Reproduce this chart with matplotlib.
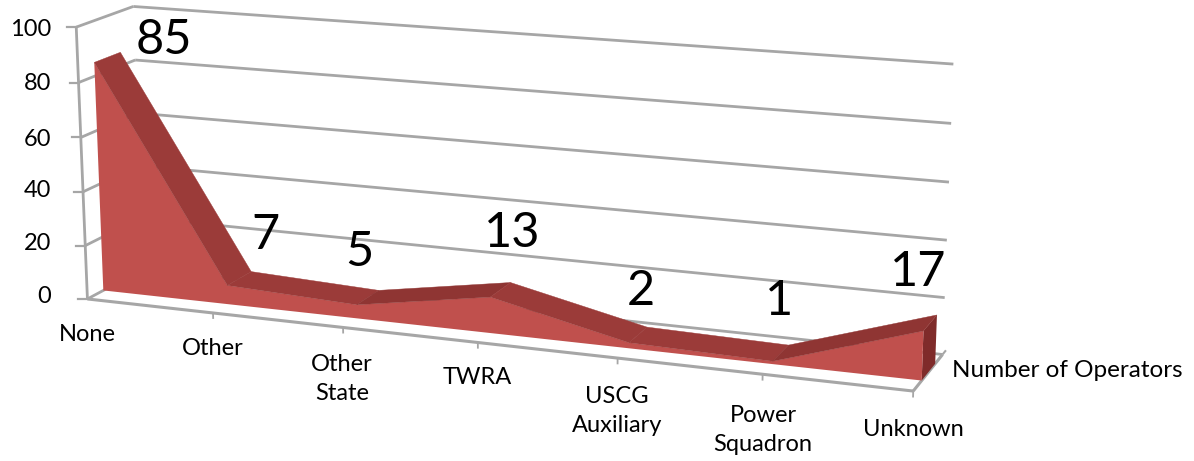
import numpy as np
import matplotlib
matplotlib.use("Agg")
import matplotlib.pyplot as plt

categories = ["None", "Other", "Other\nState", "TWRA", "USCG\nAuxiliary", "Power\nSquadron", "Unknown"]
values = [85, 7, 5, 13, 2, 1, 17]
y_ticks = [0, 20, 40, 60, 80, 100]
series_name = "Number of Operators"

W, H = 1194, 461
plt.rcParams["font.family"] = ["Lato", "DejaVu Sans"]

# camera calibration: (category pos, value, depth) -> pixel
calib = [
    ((0, 0, 0), (88, 297)), ((1, 0, 0), (213, 312)), ((2, 0, 0), (343, 328)),
    ((3, 0, 0), (477, 345)), ((5, 0, 0), (763, 375)), ((6, 0, 0), (913, 392)),
    ((0, 100, 0), (77, 28)), ((0, 80, 0), (78, 82)), ((0, 40, 0), (83, 190)),
    ((0, 100, 1), (133, 6)), ((0, 80, 1), (135, 60)), ((0, 60, 1), (137, 113)),
    ((0, 40, 1), (139, 166)), ((6, 100, 1), (955, 65)), ((6, 80, 1), (950, 124)),
    ((6, 60, 1), (948, 182)), ((6, 40, 1), (947, 239)), ((6, 20, 1), (945, 297)),
    ((6, 0, 1), (943, 352)), ((0, 0, 1), (143, 272)),
]
A, b = [], []
for (x, y, z), (u, v) in calib:
    A.append([x, y, z, 1, 0, 0, 0, 0, -u * x, -u * y, -u * z])
    A.append([0, 0, 0, 0, x, y, z, 1, -v * x, -v * y, -v * z])
    b += [u, v]
sol = np.linalg.lstsq(np.array(A, float), np.array(b, float), rcond=None)[0]
P = np.append(sol, 1.0).reshape(3, 4)


def project(x, y, z):
    x, y, z = np.broadcast_arrays(np.asarray(x, float), np.asarray(y, float), np.asarray(z, float))
    h = P @ np.vstack([x.ravel(), y.ravel(), z.ravel(), np.ones(x.size)])
    return h[0] / h[2], h[1] / h[2]


fig = plt.figure(figsize=(W / 100, H / 100), dpi=100, facecolor="white")
ax = fig.add_axes([0, 0, 1, 1])
ax.set_xlim(0, W)
ax.set_ylim(H, 0)
ax.axis("off")

GRID = "#a6a6a6"
LW = 2.0


def line3(xs, ys, zs, lw=LW, zorder=1):
    u, v = project(xs, ys, zs)
    ax.plot(u, v, color=GRID, lw=lw, solid_capstyle="butt", zorder=zorder)


n = len(values)
pos = np.arange(n)
last = n - 1
Z0, Z1 = 0.28, 0.74

# walls
for t in y_ticks:
    line3([0, last], [t, t], [1, 1])
    line3([0, 0], [t, t], [0, 1])
    u0, v0 = project(0, t, 0)
    ax.plot([u0[0] - 9, u0[0]], [v0[0], v0[0]], color=GRID, lw=1.6, zorder=1)
line3([0, 0], [0, 100], [0, 0])
line3([0, last], [0, 0], [0, 0], lw=2.2)
line3([last, last], [0, 0], [0, 1], lw=2.2)
line3([last, last], [0, 0], [1, 1.12], lw=1.5)
for i in pos[1:]:
    line3([i, i], [0, -2.2], [0, 0], lw=1.3)

# area: front face, top band, end cap
vals = np.array(values, float)
u, v = project(np.r_[pos, pos[::-1]], np.r_[vals, np.zeros(n)], Z0)
ax.fill(u, v, color="#c0504d", lw=0, zorder=3)
for i in range(n - 1):
    tone = "#9b3b39" if vals[i + 1] < vals[i] else "#8f3533"
    u, v = project([i, i + 1, i + 1, i], [vals[i], vals[i + 1], vals[i + 1], vals[i]], [Z0, Z0, Z1, Z1])
    ax.fill(u, v, color=tone, lw=0.3, ec=tone, zorder=4)
u, v = project([last] * 4, [0, vals[-1], vals[-1], 0], [Z0, Z0, Z1, Z1])
ax.fill(u, v, color="#7f2b2a", lw=0, zorder=2)

# data labels
label_xy = [(164, 40), (265, 235), (359, 252), (512, 233), (641, 291), (779, 301), (918, 272)]
for (lx, ly), val in zip(label_xy, values):
    ax.text(lx, ly, str(val), fontsize=35, color="black", ha="center", va="center", zorder=6)

# value axis labels
ytick_y = [296, 243, 190, 139, 84, 30]
for t, ly in zip(y_ticks, ytick_y):
    ax.text(51, ly, str(t), fontsize=17, ha="right", va="center", color="black")

# category labels
cat_xy = [(87, 334), (213, 348), (342, 379), (477, 377), (617, 411), (763, 430), (913, 429)]
for (lx, ly), c in zip(cat_xy, categories):
    ax.text(lx, ly, c, fontsize=17, ha="center", va="center", color="black", linespacing=1.5)

ax.text(952, 370, series_name, fontsize=17.5, ha="left", va="center", color="black")

fig.savefig("out.png", dpi=100)
